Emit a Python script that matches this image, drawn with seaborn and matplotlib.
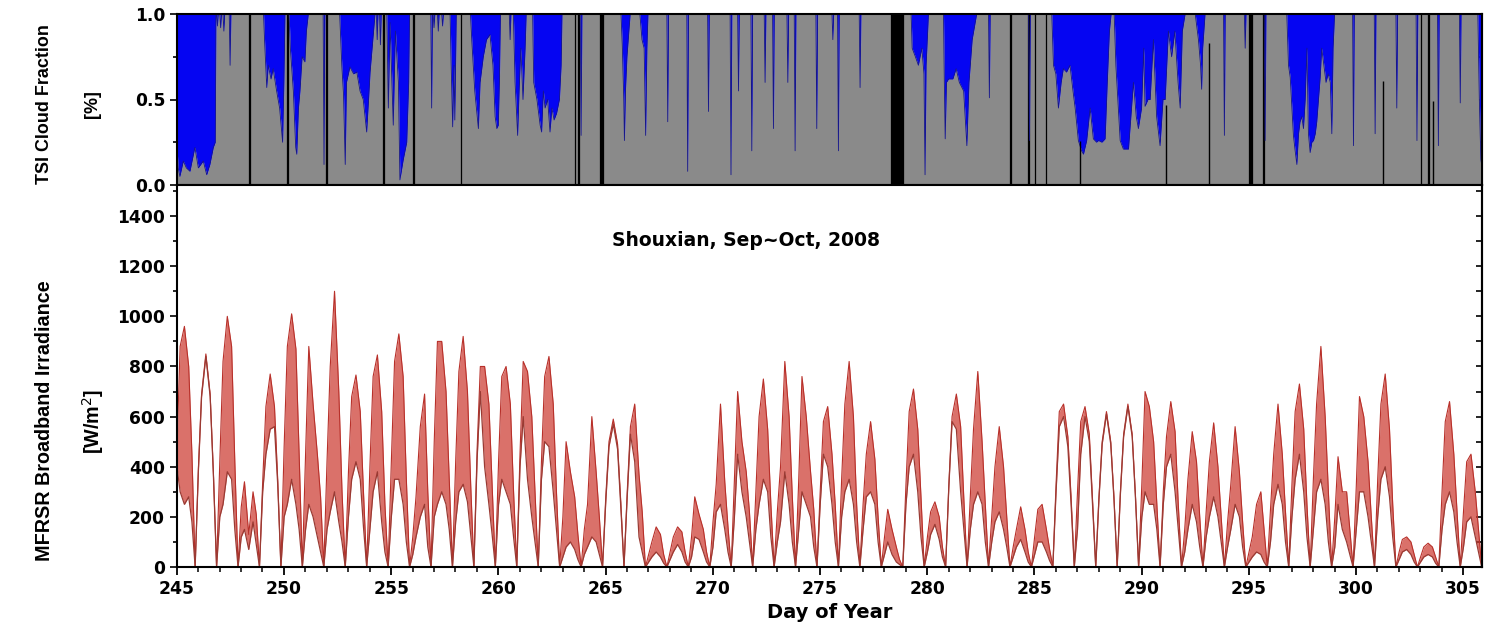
import numpy as np
import pandas as pd
import matplotlib
matplotlib.use("Agg")
import matplotlib.pyplot as plt
from matplotlib.ticker import MultipleLocator, FixedLocator
import seaborn as sns

# ---------------- data ----------------
days = list(range(245, 306))
bell_start_offset = -0.14              # daily curve of day d spans d-0.14 .. d+0.86
bell_frac = [0.15, 0.30, 0.50, 0.70, 0.85]

# upper envelope of the MFRSR scatter at bell_frac positions (W/m2)
irr_upper = [
    [470, 880, 960, 800, 450], [390, 690, 850, 690, 380], [420, 820, 1000, 880, 420],
    [240, 340, 130, 300, 210], [340, 640, 770, 640, 350], [480, 880, 1010, 870, 450],
    [450, 880, 650, 450, 280], [420, 800, 1100, 700, 300], [380, 680, 766, 620, 300],
    [400, 760, 846, 620, 250], [420, 820, 930, 760, 350], [120, 280, 560, 690, 300],
    [500, 900, 900, 700, 350], [420, 780, 920, 700, 330], [470, 800, 800, 650, 330],
    [420, 760, 800, 650, 300], [450, 820, 780, 600, 300], [420, 760, 840, 650, 300],
    [200, 500, 380, 280, 130], [150, 250, 600, 380, 200], [280, 500, 590, 490, 260],
    [300, 560, 650, 370, 220], [50, 100, 160, 130, 50], [60, 120, 160, 140, 60],
    [120, 280, 210, 150, 60], [180, 330, 650, 340, 160], [350, 700, 500, 380, 220],
    [300, 600, 750, 550, 250], [220, 400, 820, 600, 280], [350, 760, 600, 380, 230],
    [300, 580, 640, 450, 250], [350, 650, 820, 600, 250], [250, 450, 580, 430, 200],
    [120, 230, 150, 80, 30], [330, 620, 710, 550, 280], [120, 220, 260, 200, 80],
    [330, 600, 690, 560, 270], [280, 550, 780, 500, 250], [200, 400, 560, 400, 200],
    [80, 150, 240, 150, 60], [120, 230, 250, 150, 70], [330, 620, 650, 520, 280],
    [300, 580, 640, 530, 270], [280, 500, 620, 500, 280], [300, 530, 650, 530, 290],
    [330, 700, 640, 500, 250], [300, 520, 660, 540, 250], [150, 350, 540, 420, 200],
    [220, 420, 575, 400, 200], [180, 330, 560, 380, 180], [60, 120, 250, 300, 150],
    [230, 450, 650, 450, 220], [330, 620, 730, 550, 250], [350, 650, 880, 600, 300],
    [200, 440, 300, 300, 150], [320, 680, 600, 420, 200], [350, 650, 770, 550, 250],
    [60, 110, 120, 100, 50], [40, 80, 95, 80, 40], [300, 580, 660, 450, 220],
    [220, 420, 450, 300, 150],
]
# lower envelope of the scatter at the same positions (W/m2)
irr_lower = [
    [400, 300, 250, 280, 180], [380, 680, 840, 680, 370], [200, 250, 380, 350, 150],
    [120, 150, 70, 180, 90], [300, 450, 550, 560, 330], [200, 250, 350, 250, 150],
    [150, 250, 200, 120, 60], [150, 220, 300, 180, 100], [200, 350, 420, 350, 160],
    [150, 300, 380, 180, 60], [200, 350, 350, 250, 100], [50, 120, 200, 250, 80],
    [200, 250, 300, 250, 150], [180, 300, 330, 260, 130], [430, 700, 400, 250, 130],
    [250, 350, 300, 250, 120], [400, 600, 350, 200, 100], [350, 500, 480, 300, 150],
    [40, 80, 100, 70, 30], [50, 80, 120, 100, 50], [260, 480, 570, 470, 240],
    [280, 530, 420, 120, 60], [20, 40, 60, 40, 15], [30, 60, 90, 60, 20],
    [40, 120, 110, 60, 20], [80, 220, 250, 150, 60], [200, 450, 300, 200, 100],
    [150, 250, 350, 300, 120], [100, 180, 380, 250, 100], [150, 300, 250, 200, 80],
    [250, 450, 400, 250, 100], [200, 300, 350, 250, 100], [150, 280, 300, 250, 100],
    [50, 100, 50, 20, 10], [250, 400, 450, 300, 120], [60, 130, 170, 110, 40],
    [320, 580, 550, 300, 150], [150, 250, 300, 250, 100], [100, 180, 220, 150, 80],
    [40, 80, 110, 60, 20], [50, 100, 100, 60, 25], [300, 560, 600, 480, 250],
    [150, 450, 600, 500, 250], [270, 490, 610, 490, 270], [290, 520, 640, 520, 280],
    [200, 300, 250, 250, 150], [250, 400, 450, 300, 150], [60, 150, 250, 180, 80],
    [120, 200, 280, 200, 100], [80, 150, 250, 200, 80], [20, 40, 60, 50, 20],
    [100, 250, 330, 250, 100], [200, 350, 450, 300, 120], [150, 300, 350, 250, 100],
    [80, 250, 150, 100, 50], [150, 300, 300, 200, 100], [200, 350, 400, 280, 120],
    [30, 60, 70, 50, 20], [20, 40, 50, 40, 15], [150, 250, 300, 220, 100],
    [80, 180, 200, 120, 60],
]

# TSI cloud fraction: wide low-cloud episodes (day, fraction)
cf_region_t = [
    245.0, 245.07, 245.15, 245.31, 245.45, 245.62, 245.85, 246.01, 246.24, 246.40, 246.55, 246.71, 246.80, 246.83,
    249.05, 249.1, 249.2, 249.27, 249.4, 249.5, 249.66, 249.8, 249.94, 250.0, 250.05,
    250.24, 250.3, 250.44, 250.55, 250.6, 250.68, 250.75, 250.85, 250.98, 251.05, 251.14,
    252.6, 252.7, 252.78, 252.86, 252.92, 253.08, 253.25, 253.4, 253.55, 253.7, 253.86, 253.95, 254.02, 254.15, 254.25,
    254.8, 254.87, 254.95, 255.1, 255.2, 255.34, 255.41, 255.57, 255.73, 255.82, 255.86,
    257.75, 257.8, 257.87, 257.93, 257.97, 258.04,
    258.7, 258.76, 258.9, 259.07, 259.15, 259.3, 259.45, 259.61, 259.75, 259.85, 259.93, 260.0, 260.05, 260.1,
    260.7, 260.78, 260.9, 260.97, 261.05, 261.15, 261.25, 261.3,
    261.6, 261.65, 261.8, 261.95, 262.02, 262.1, 262.18, 262.3, 262.41, 262.5, 262.6, 262.72, 262.85, 262.93, 262.97,
    265.72, 265.78, 265.85, 265.88, 265.93, 266.0, 266.1, 266.15,
    266.6, 266.7, 266.8, 266.87, 266.93, 266.98,
    279.25, 279.3, 279.45, 279.59, 279.75, 279.85, 279.9, 279.95, 280.06,
    280.76, 280.8, 280.84, 280.9, 281.0, 281.2, 281.35, 281.5, 281.7, 281.85, 281.95, 282.1, 282.31,
    285.81, 285.89, 286.0, 286.12, 286.25, 286.35, 286.5, 286.66, 286.8, 286.9, 287.05, 287.2, 287.29, 287.44,
    287.6, 287.75, 287.9, 287.99, 288.15, 288.3, 288.4, 288.5, 288.58,
    288.72, 288.8, 289.0, 289.15, 289.39, 289.5, 289.62, 289.75, 289.85, 290.0, 290.1, 290.16, 290.3, 290.4,
    290.55, 290.7, 290.86, 291.0, 291.1, 291.25, 291.4, 291.55, 291.7, 291.8, 291.9, 292.03,
    292.5, 292.65, 292.75, 292.8, 292.85, 292.96,
    296.77, 296.85, 296.93, 297.08, 297.16, 297.24, 297.32, 297.39, 297.47, 297.55, 297.63, 297.71, 297.78,
    297.86, 297.94, 298.02, 298.1, 298.17, 298.25, 298.33, 298.4, 298.5, 298.6, 298.7, 298.8, 298.87, 298.93, 299.0,
    305.68, 305.75, 305.82, 305.86,
]
cf_region_v = [
    0.25, 0.10, 0.05, 0.14, 0.10, 0.08, 0.22, 0.10, 0.14, 0.06, 0.12, 0.22, 0.25, 1.0,
    1.0, 0.84, 0.57, 0.7, 0.62, 0.68, 0.55, 0.45, 0.25, 0.6, 1.0,
    1.0, 0.8, 0.55, 0.22, 0.18, 0.45, 0.55, 0.75, 0.72, 0.9, 1.0,
    1.0, 0.7, 0.53, 0.12, 0.6, 0.69, 0.65, 0.66, 0.55, 0.5, 0.31, 0.5, 0.66, 0.85, 1.0,
    1.0, 0.45, 0.95, 0.35, 0.9, 0.6, 0.03, 0.15, 0.25, 0.6, 1.0,
    1.0, 0.7, 0.34, 0.7, 0.38, 1.0,
    1.0, 0.85, 0.55, 0.33, 0.6, 0.75, 0.85, 0.88, 0.7, 0.4, 0.33, 0.35, 0.6, 1.0,
    1.0, 0.6, 0.29, 0.55, 0.8, 0.5, 0.8, 1.0,
    1.0, 0.6, 0.5, 0.35, 0.31, 0.55, 0.45, 0.5, 0.31, 0.45, 0.38, 0.42, 0.5, 0.7, 1.0,
    1.0, 0.82, 0.5, 0.26, 0.55, 0.75, 0.92, 1.0,
    1.0, 0.85, 0.8, 0.29, 0.8, 1.0,
    1.0, 0.8, 0.75, 0.7, 0.8, 0.65, 0.06, 0.7, 1.0,
    1.0, 0.6, 0.27, 0.6, 0.62, 0.62, 0.68, 0.6, 0.55, 0.23, 0.6, 0.85, 1.0,
    1.0, 0.7, 0.65, 0.45, 0.6, 0.68, 0.66, 0.7, 0.55, 0.45, 0.26, 0.2, 0.18, 0.26,
    0.45, 0.27, 0.25, 0.26, 0.25, 0.27, 0.6, 0.9, 1.0,
    1.0, 0.7, 0.26, 0.21, 0.21, 0.4, 0.6, 0.4, 0.33, 0.45, 0.8, 0.46, 0.5, 0.5,
    0.85, 0.4, 0.23, 0.5, 0.5, 0.9, 0.75, 0.9, 0.6, 0.45, 0.9, 1.0,
    1.0, 0.85, 0.7, 0.56, 0.8, 1.0,
    1.0, 0.7, 0.63, 0.29, 0.2, 0.12, 0.3, 0.37, 0.4, 0.33, 0.5, 0.8, 0.3,
    0.19, 0.25, 0.26, 0.3, 0.37, 0.5, 0.63, 0.8, 0.7, 0.6, 0.65, 0.6, 0.3, 0.8, 1.0,
    1.0, 0.5, 0.15, 0.12,
]
# short clear-sky dips of the cloud fraction (day, minimum fraction)
spike_day = [246.9, 247.05, 247.2, 247.49, 251.87, 254.35, 254.5, 256.89, 257.0, 257.2, 257.4,
             260.55, 263.86, 267.9, 268.83, 269.8, 270.85, 271.2, 271.82, 272.44, 272.83,
             273.5, 273.84, 274.85, 275.6, 275.86, 276.87, 282.9, 284.77, 293.86, 294.83,
             295.76, 299.88, 300.89, 301.9, 302.84, 303.84, 304.86]
spike_min = [0.93, 0.92, 0.9, 0.70, 0.12, 0.85, 0.82, 0.45, 0.92, 0.9, 0.93,
             0.85, 0.29, 0.37, 0.08, 0.43, 0.06, 0.55, 0.2, 0.6, 0.33,
             0.6, 0.2, 0.33, 0.85, 0.2, 0.57, 0.51, 0.26, 0.29, 0.8,
             0.26, 0.23, 0.3, 0.45, 0.26, 0.23, 0.48]
# missing-data periods (drawn black)
gap_start = [248.36, 250.15, 251.98, 254.63, 256.03, 258.24, 263.57, 263.72, 264.73, 278.33,
             283.85, 284.71, 285.02, 285.52, 295.02, 295.67, 303.03, 303.36]
gap_end = [248.44, 250.17, 252.03, 254.65, 256.05, 258.26, 263.59, 263.74, 264.88, 278.88,
           283.90, 284.73, 285.04, 285.54, 295.15, 295.69, 303.05, 303.41]
mark_day = [287.13, 291.13, 293.12, 301.28, 303.61]
mark_top = [0.255, 0.47, 0.83, 0.61, 0.49]

x_major = list(range(245, 306, 5))
irr_major = list(range(0, 1401, 200))
cf_major = [0.0, 0.5, 1.0]
cf_labels = ["0.0", "0.5", "1.0"]

title = "Shouxian, Sep~Oct, 2008"
xlabel = "Day of Year"

# ---------------- build series ----------------
t_list, up_list, lo_list = [], [], []
for d, up, lo in zip(days, irr_upper, irr_lower):
    s = d + bell_start_offset
    t_list.append(s); up_list.append(0); lo_list.append(0)
    for f, u, l in zip(bell_frac, up, lo):
        t_list.append(s + f); up_list.append(u); lo_list.append(l)
t_list.append(days[-1] + bell_start_offset + 1); up_list.append(0); lo_list.append(0)
irr = pd.DataFrame({"t": t_list, "upper": up_list, "lower": lo_list})

SPIKE_HW = 0.04
pts = list(zip(cf_region_t, cf_region_v))
for d, m in zip(spike_day, spike_min):
    pts += [(d - SPIKE_HW, 1.0), (d, m), (d + SPIKE_HW, 1.0)]
pts.sort()
cf = pd.DataFrame(pts, columns=["t", "cf"])

# ---------------- style ----------------
sns.set_theme(style="ticks")
plt.rcParams["font.family"] = ["DejaVu Sans"]
plt.rcParams["axes.linewidth"] = 1.5
for k in ("text.color", "axes.labelcolor", "xtick.color", "ytick.color", "axes.edgecolor"):
    plt.rcParams[k] = "black"

W, H = 1485, 634
fig = plt.figure(figsize=(W / 100, H / 100), dpi=100)
L, R = 176.7, 1481.7
ax_top = fig.add_axes([L / W, 1 - 185 / H, (R - L) / W, (185 - 14) / H])
ax_bot = fig.add_axes([L / W, 1 - 567 / H, (R - L) / W, (567 - 185) / H])
XMIN, XMAX = 245.0, 305.86
TICK_FS = 12.3

# ---- top panel: cloud fraction ----
ax_top.fill_between(cf["t"], 0, cf["cf"], color="#8a8a8a", lw=0)
ax_top.fill_between(cf["t"], cf["cf"], 1, color="#0505f2", lw=0)
sns.lineplot(data=cf, x="t", y="cf", ax=ax_top, color="#16168a", lw=0.6,
             sort=False, estimator=None, legend=False)
for s, e in zip(gap_start, gap_end):
    ax_top.axvspan(s, e, color="black", lw=0.9)
ax_top.vlines(mark_day, 0, mark_top, color="black", lw=1.0)
ax_top.set_xlim(XMIN, XMAX)
ax_top.set_ylim(0, 1)
ax_top.set_xlabel(""); ax_top.set_ylabel("")
ax_top.xaxis.set_major_locator(FixedLocator(x_major))
ax_top.xaxis.set_minor_locator(MultipleLocator(1))
ax_top.set_xticklabels([])
ax_top.set_yticks(cf_major)
ax_top.set_yticklabels(cf_labels, fontweight="bold", fontsize=TICK_FS)
ax_top.yaxis.set_minor_locator(MultipleLocator(0.25))
ax_top.tick_params(axis="x", which="major", direction="out", length=6, width=1.3, bottom=True)
ax_top.tick_params(axis="x", which="minor", direction="out", length=3.5, width=1.1, bottom=True)
ax_top.tick_params(axis="y", which="both", direction="out", width=1.2, left=True, right=False, pad=3)
ax_top.tick_params(axis="y", which="major", length=5)
ax_top.tick_params(axis="y", which="minor", length=3)
sec_t = ax_top.secondary_yaxis("right")
sec_t.set_yticks(cf_major)
sec_t.set_yticklabels([])
sec_t.yaxis.set_minor_locator(MultipleLocator(0.25))
sec_t.tick_params(axis="y", which="both", direction="in", length=4, width=1.2)
for sp in ax_top.spines.values():
    sp.set_visible(True); sp.set_color("black"); sp.set_linewidth(1.5)

# ---- bottom panel: irradiance ----
ax_bot.fill_between(irr["t"], irr["lower"], irr["upper"], color="#cc3a30", alpha=0.72, lw=0)
sns.lineplot(data=irr, x="t", y="upper", ax=ax_bot, color="#b8302a", lw=0.8,
             sort=False, estimator=None, legend=False)
sns.lineplot(data=irr, x="t", y="lower", ax=ax_bot, color="#9a3a33", lw=0.9,
             sort=False, estimator=None, legend=False)
ax_bot.set_xlim(XMIN, XMAX)
ax_bot.set_ylim(0, 1524)
ax_bot.set_xlabel(""); ax_bot.set_ylabel("")
ax_bot.set_xticks(x_major)
ax_bot.set_xticklabels([str(v) for v in x_major], fontweight="bold", fontsize=TICK_FS)
ax_bot.xaxis.set_minor_locator(MultipleLocator(1))
ax_bot.set_yticks(irr_major)
ax_bot.set_yticklabels([str(v) for v in irr_major], fontweight="bold", fontsize=TICK_FS)
ax_bot.yaxis.set_minor_locator(MultipleLocator(100))
ax_bot.tick_params(axis="x", which="major", direction="out", length=6, width=1.3, pad=3)
ax_bot.tick_params(axis="x", which="minor", direction="out", length=3.5, width=1.1)
ax_bot.tick_params(axis="y", which="both", direction="out", width=1.2, left=True, right=False)
ax_bot.tick_params(axis="y", which="major", length=5)
ax_bot.tick_params(axis="y", which="minor", length=3)
sec_b = ax_bot.secondary_yaxis("right")
sec_b.set_yticks(irr_major)
sec_b.set_yticklabels([])
sec_b.yaxis.set_minor_locator(MultipleLocator(100))
sec_b.tick_params(axis="y", which="both", direction="in", length=4, width=1.2)
for sp in ax_bot.spines.values():
    sp.set_visible(True); sp.set_color("black"); sp.set_linewidth(1.5)

ax_bot.text(0.436, 0.856, title, transform=ax_bot.transAxes, ha="center", va="center",
            fontsize=13.5, fontweight="bold", color="black")
fig.text((L + R) / 2 / W, 1 - 612 / H, xlabel, ha="center", va="center",
         fontsize=14, fontweight="bold")

lab_fam = ["Liberation Sans", "DejaVu Sans"]
fig.text(45 / W, 1 - 104 / H, "TSI Cloud Fraction", rotation=90, ha="center", va="center",
         fontsize=12.9, fontweight="bold", family=lab_fam)
fig.text(93 / W, 1 - 104 / H, "[%]", rotation=90, ha="center", va="center",
         fontsize=12.9, fontweight="bold", family=lab_fam)
fig.text(45 / W, 1 - 421 / H, "MFRSR Broadband Irradiance", rotation=90, ha="center",
         va="center", fontsize=14.2, fontweight="bold", family=lab_fam)
fig.text(93 / W, 1 - 421 / H, "[W/m$^2$]", rotation=90, ha="center", va="center",
         fontsize=14.2, fontweight="bold", family=lab_fam)

fig.savefig("out.png", dpi=100, facecolor="white")
